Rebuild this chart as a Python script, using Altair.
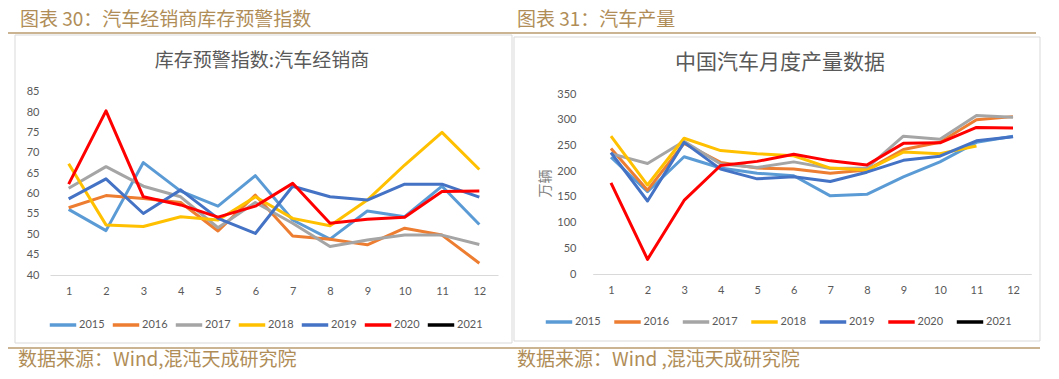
import altair as alt
import pandas as pd

months = list(range(1, 13))
years = ["2015", "2016", "2017", "2018", "2019", "2020", "2021"]
colors = ["#5B9BD5", "#ED7D31", "#A5A5A5", "#FFC000", "#4472C4", "#FF0000", "#000000"]

# 库存预警指数:汽车经销商
inv_2015 = [56.1, 50.9, 67.6, 60.6, 56.9, 64.4, 53.5, 48.8, 55.7, 54.3, 61.8, 52.4]
inv_2016 = [56.5, 59.5, 58.8, 57.8, 50.8, 59.6, 49.6, 48.8, 47.4, 51.5, 49.8, 42.9]
inv_2017 = [61.3, 66.6, 61.8, 59.2, 51.6, 57.8, 52.7, 47.0, 48.6, 49.8, 49.8, 47.5]
inv_2018 = [67.3, 52.3, 51.9, 54.3, 53.5, 59.2, 53.9, 52.1, 58.4, 67.0, 75.0, 65.9]
inv_2019 = [58.7, 63.6, 55.1, 60.9, 53.9, 50.2, 61.8, 59.2, 58.4, 62.3, 62.3, 59.1]
inv_2020 = [62.3, 80.3, 59.2, 57.2, 54.2, 56.9, 62.5, 52.7, 53.7, 54.2, 60.5, 60.6]
inv_2021 = []

# 中国汽车月度产量数据 (万辆)
prod_2015 = [227, 160, 228, 206, 196, 191, 152, 155, 189, 218, 256, 268]
prod_2016 = [244, 163, 254, 217, 206, 204, 196, 202, 242, 256, 300, 306]
prod_2017 = [234, 215, 258, 214, 207, 218, 205, 206, 268, 262, 308, 305]
prod_2018 = [268, 173, 264, 240, 234, 230, 206, 202, 237, 234, 249]
prod_2019 = [236, 142, 256, 204, 185, 189, 180, 198, 221, 229, 259, 267]
prod_2020 = [177, 28.5, 143, 211, 219, 233, 220, 212, 254, 255, 285, 284]
prod_2021 = []

inv_series = [inv_2015, inv_2016, inv_2017, inv_2018, inv_2019, inv_2020, inv_2021]
prod_series = [prod_2015, prod_2016, prod_2017, prod_2018, prod_2019, prod_2020, prod_2021]


def to_frame(series):
    rows = []
    for yr, vals in zip(years, series):
        for m, v in zip(months, vals):
            rows.append({"year": yr, "month": m, "value": v})
    return pd.DataFrame(rows)


inv_df = to_frame(inv_series)
prod_df = to_frame(prod_series)

W, H = 1043, 363
GOLD_TXT = "#B08D57"
GOLD_LINE = "#B89B6E"
GRAY_TXT = "#595959"
BOX = "#D9D9D9"
CJK = "Noto Sans CJK SC"
NUM = "Lato"

one = alt.Data(values=[{"a": 1}])


def text_layer(txt, x, y, size, color, align="left", font=CJK):
    return alt.Chart(one).mark_text(
        text=txt, align=align, baseline="middle", fontSize=size, color=color, font=font
    ).encode(x=alt.value(x), y=alt.value(y))


def hline(x1, x2, y, color, w=1.5):
    return alt.Chart(one).mark_rule(color=color, strokeWidth=w).encode(
        x=alt.value(x1), x2=alt.value(x2), y=alt.value(y)
    )


def box(x1, x2, y1, y2):
    return alt.Chart(one).mark_rect(fill="white", fillOpacity=0, stroke=BOX, strokeWidth=1).encode(
        x=alt.value(x1), x2=alt.value(x2), y=alt.value(y1), y2=alt.value(y2)
    )


def panel(df, xrange, yrange, ydomain, ystep, yoffset, xoffset, legx, legy, colpad, ytitle=None, ytx=0, yty=0):
    yaxis_kwargs = dict(
        values=list(range(ydomain[0], ydomain[1] + 1, ystep)), orient="left", offset=yoffset,
        grid=False, ticks=False, tickSize=0, domain=False, labelPadding=3, zindex=1,
        labelColor=GRAY_TXT, labelFontSize=11, labelFont=NUM,
    )
    if ytitle:
        yaxis_kwargs.update(title=ytitle, titleX=ytx, titleY=yty, titleAngle=-90, titleAlign="center",
                            titleBaseline="middle", titleColor="#7F7F7F", titleFontSize=14,
                            titleFont=CJK, titleFontWeight="normal")
    else:
        yaxis_kwargs.update(title=None)
    return alt.Chart(df).mark_line(strokeWidth=3, strokeJoin="round").encode(
        x=alt.X("month:Q",
                scale=alt.Scale(domain=[0.5, 12.5], range=xrange, nice=False, zero=False),
                axis=alt.Axis(values=months, format="d", orient="bottom", offset=xoffset, grid=False,
                              ticks=False, tickSize=0, labelPadding=10, domainColor=BOX, domainWidth=1,
                              zindex=0, labelColor=GRAY_TXT, labelFontSize=11, labelFont=NUM, title=None)),
        y=alt.Y("value:Q",
                scale=alt.Scale(domain=list(ydomain), range=yrange, nice=False, zero=False),
                axis=alt.Axis(**yaxis_kwargs)),
        color=alt.Color("year:N",
                        scale=alt.Scale(domain=years, range=colors),
                        legend=alt.Legend(orient="none", legendX=legx, legendY=legy, direction="horizontal",
                                          title=None, symbolType="stroke", symbolStrokeWidth=3.5,
                                          symbolSize=700, labelFontSize=11, labelColor=GRAY_TXT,
                                          labelFont=NUM, labelOffset=1, columnPadding=colpad)),
        detail="year:N",
    )


left = panel(inv_df, [42, 490], [267, 83.7], (40, 85), 5, -34, -96, 40, 302, 0)
right = panel(prod_df, [584.7, 1023.3], [266, 86], (0, 350), 50, -571, -97, 536, 299, 5.5,
              ytitle="万辆", ytx=-34, yty=175)

layers = [
    box(7, 504, 27, 335),
    box(506, 1032, 29, 333),
    text_layer("图表 30：汽车经销商库存预警指数", 12, 12, 19, GOLD_TXT),
    text_layer("图表 31：汽车产量", 509, 12, 19, GOLD_TXT),
    hline(-2, 1028, 25, GOLD_LINE),
    hline(-1, 1032, 340, GOLD_LINE),
    text_layer("数据来源：Wind,混沌天成研究院", 10, 352, 19, GOLD_TXT),
    text_layer("数据来源：Wind ,混沌天成研究院", 509, 352, 19, GOLD_TXT),
    text_layer("库存预警指数:汽车经销商", 254, 53, 19, GRAY_TXT, align="center"),
    text_layer("中国汽车月度产量数据", 772, 55, 21, GRAY_TXT, align="center"),
    left,
    right,
]

chart = alt.layer(*layers).resolve_scale(
    x="independent", y="independent", color="independent"
).properties(
    width=W, height=H, autosize=alt.AutoSizeParams(type="none"), padding=0, background="white"
).configure_view(stroke=None)

chart.save("out.html", embed_options={"renderer": "svg", "actions": False})
